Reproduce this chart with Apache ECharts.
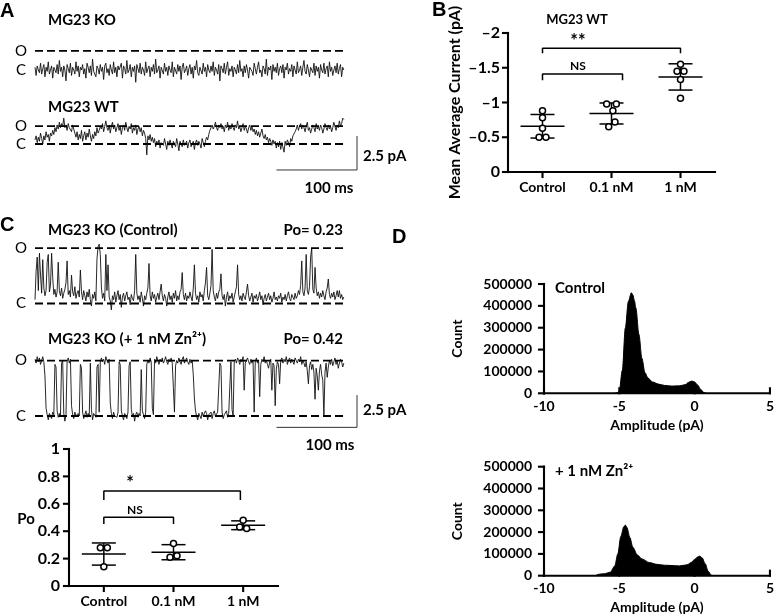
<!DOCTYPE html>
<html>
<head>
<meta charset="utf-8">
<script src="https://cdn.jsdelivr.net/npm/echarts@6/dist/echarts.min.js"></script>
<style>html,body{margin:0;padding:0;background:#fff}#main{width:777px;height:616px}</style>
</head>
<body>
<div id="main"></div>
<script>
// sampling step of the single-channel traces (ms)
var traceStep = 1.375;

// A: MG23 KO trace (pA, closed level = 0)
var koTrace = [
  0.2,-0.4,0.3,0.0,-0.2,0.5,-0.3,0.1,0.4,-0.5,0.2,-0.1,0.6,-0.3,0.0,0.3,-0.6,0.2,0.1,-0.2,
  0.4,-0.3,0.7,-0.1,0.2,-0.5,0.3,0.0,-0.8,0.4,0.1,-0.2,0.5,-0.4,0.2,0.0,-0.3,0.6,-0.1,0.3,
  -0.5,0.2,0.0,0.4,-0.3,0.1,-0.6,0.5,0.2,-0.2,0.3,-0.4,0.8,-0.1,0.0,-0.5,0.3,0.1,-0.3,0.4,
  -0.1,0.2,-0.7,0.3,0.5,-0.2,0.1,-0.4,0.4,0.0,-0.3,0.6,-0.2,0.2,-0.5,0.3,0.0,-0.1,0.5,-0.6,
  0.3,0.1,-0.3,0.7,-0.2,0.0,0.4,-0.5,0.2,-0.1,0.3,-0.9,0.4,0.1,-0.2,0.5,-0.3,0.2,0.0,-0.4,
  0.6,-0.2,0.1,0.3,-0.5,0.2,-0.1,0.4,-0.3,0.8,-0.2,0.0,0.3,-0.6,0.2,0.1,-0.3,0.5,-0.1,0.2,
  -0.4,0.3,0.0,-0.2,0.6,-0.5,0.2,0.1,-0.3,0.4,-0.1,0.3,-0.7,0.2,0.5,-0.2,0.0,0.3,-0.4,0.1,
  0.4,-0.3,0.2,-0.6,0.3,0.0,0.7,-0.2,-0.4,0.2,0.1,-0.3,0.5,-0.1,0.2,-0.5,0.4,0.0,-0.2,0.3,
  -0.1,0.6,-0.4,0.2,0.0,-0.3,0.4,-0.8,0.3,0.1,-0.2,0.5,-0.3,0.2,0.6,-0.4,0.1,-0.1,0.3,-0.5,
  0.2,0.0,-0.3,0.4,-0.2,0.7,-0.1,0.1,-0.5,0.3,-0.2,0.4,0.0,-0.6,0.2,0.3,-0.1,-0.4,0.5,0.1,
  -0.3,0.2,0.6,-0.2,0.0,-0.5,0.3,0.1,-0.3,0.8,-0.4,0.2,0.0,0.3,-0.7,0.4,-0.1,0.2,-0.2,0.5,
  -0.4,0.1,0.3,-0.2,0.4,-0.6,0.2,0.0,0.5,-0.3,0.1,-0.1,0.4,-0.5,0.3,0.2,-0.3,0.6,-0.2,0.0,
  0.3,-0.4,0.2,0.7,-0.1,-0.3,0.4,0.0,-0.5,0.2,0.1,-0.2,0.5,-0.4,0.3,-0.1,0.2,-0.6,0.4,0.0,
  -0.2,0.5,-0.3,0.1,0.3,-0.5,0.6,-0.1,0.2,-0.4,0.0,0.3,-0.2,0.5,-0.3,0.1,0.4,-0.5,0.2,0.0
];
// A: MG23 WT trace
var wtTrace = [
  0.3,0.6,0.1,0.5,0.2,0.8,0.4,0.0,0.6,0.3,0.9,0.5,0.7,0.2,0.8,0.6,1.0,0.7,1.2,0.9,
  1.4,1.1,1.6,1.2,1.5,1.3,1.9,1.2,1.4,1.0,1.5,1.2,1.3,0.9,1.4,1.1,0.8,0.5,0.9,0.3,
  0.7,0.4,1.0,0.2,0.6,0.9,0.3,0.8,0.5,1.1,0.6,0.2,0.7,0.4,0.9,0.6,1.2,0.8,1.0,1.3,
  1.1,1.5,0.9,1.3,1.7,1.2,1.0,1.4,0.8,1.3,1.6,1.1,1.4,0.9,1.2,1.5,1.0,1.3,0.7,1.2,
  1.4,1.0,1.6,1.2,0.9,1.3,1.1,1.5,0.8,1.2,1.0,1.4,0.7,1.1,1.3,0.9,1.2,0.6,1.0,0.8,
  0.4,-0.8,0.6,0.3,0.7,0.2,0.5,0.1,0.4,-0.2,0.2,0.0,0.3,-0.3,0.1,0.2,-0.1,0.4,0.0,-0.4,
  0.2,-0.1,0.3,0.0,-0.3,0.2,0.1,-0.2,0.4,0.0,-0.5,0.2,0.1,-0.2,0.3,-0.1,0.0,0.2,-0.3,0.1,
  0.3,-0.2,0.0,0.2,-0.4,0.1,0.3,-0.1,0.2,0.0,-0.3,0.4,0.1,-0.2,0.2,0.5,0.3,0.7,1.0,1.2,
  1.4,1.1,1.3,1.6,1.2,1.0,1.4,1.2,1.5,1.1,1.3,0.9,1.4,1.2,1.6,1.0,1.3,1.1,1.5,1.2,
  1.0,1.4,1.2,1.7,1.1,1.3,0.9,1.2,1.5,1.0,1.3,1.1,0.8,1.2,1.4,1.0,1.3,0.9,1.1,0.7,
  1.0,0.6,0.9,0.5,0.8,1.1,0.6,0.4,0.7,0.3,0.5,0.1,0.4,0.2,-0.1,0.3,0.0,0.2,-0.3,0.1,
  -0.2,0.2,-0.4,0.1,0.0,-0.6,0.2,-0.1,0.3,0.1,-0.2,0.4,0.2,0.6,0.5,0.9,1.1,1.4,1.0,1.3,
  1.5,1.1,1.4,1.2,0.9,1.3,1.6,1.0,1.2,0.8,1.1,1.4,1.2,0.9,1.5,1.1,1.3,1.0,1.4,1.2,
  0.8,1.1,1.5,1.2,1.0,1.4,1.1,1.3,0.9,1.2,1.6,1.3,1.0,1.4,1.2,1.7,1.3,1.5,1.9,1.8
];
// C: MG23 KO control trace
var ctrlTrace = [
  0.3,2.5,3.6,1.0,3.9,2.2,0.8,3.4,1.2,0.6,1.0,3.2,3.8,0.9,1.4,3.9,2.0,0.7,1.1,0.5,
  0.9,3.2,1.0,0.6,1.2,0.4,0.8,1.1,1.6,3.3,0.7,1.0,0.5,2.2,0.9,0.6,1.3,0.4,0.8,1.0,
  0.5,2.6,0.9,0.3,1.0,0.6,0.2,0.9,0.5,1.1,0.3,-0.2,0.7,0.4,0.9,0.2,3.5,4.4,4.6,3.8,
  1.2,0.4,0.8,0.2,3.8,1.0,3.0,0.5,0.2,-0.5,0.6,0.3,0.9,0.1,0.6,1.0,0.3,0.7,-0.3,0.5,
  0.8,0.2,0.6,0.9,0.3,0.5,-0.1,0.7,0.4,0.2,1.0,3.8,0.8,0.3,0.6,0.1,0.9,0.4,-0.2,0.6,
  0.3,0.8,1.2,3.1,0.6,0.2,0.9,0.4,0.7,0.1,0.5,0.8,0.3,0.9,1.5,0.6,0.2,0.7,0.4,-0.2,
  0.5,0.9,0.3,0.6,0.1,0.8,0.4,1.0,0.2,0.6,0.3,0.9,1.1,2.4,0.7,0.3,0.8,0.2,0.6,0.4,
  0.9,0.5,0.2,1.2,3.0,0.8,0.3,0.6,0.1,0.9,0.5,0.7,0.2,1.0,1.6,2.8,0.6,0.3,0.8,1.4,
  4.2,1.0,0.5,0.2,0.8,0.4,0.9,1.1,2.3,0.6,0.3,0.7,-0.2,0.5,0.9,0.2,0.6,0.4,0.8,0.1,
  0.5,0.9,1.3,3.0,0.7,0.3,0.6,0.2,0.8,0.5,0.3,0.9,1.5,0.6,0.2,0.5,0.8,0.1,0.6,0.4,
  0.7,0.2,0.5,0.9,0.3,0.6,-0.1,0.4,0.7,0.2,0.5,0.8,0.3,0.6,0.1,0.4,0.9,0.3,0.5,0.2,
  0.6,0.4,0.8,0.1,0.5,0.3,0.7,0.2,0.6,0.9,0.4,0.2,0.7,0.5,0.3,0.8,0.4,0.6,1.0,0.7,
  1.4,3.3,0.9,0.6,1.2,3.8,1.0,0.7,1.3,3.6,4.3,1.1,0.8,2.8,1.2,0.6,0.9,0.4,0.8,0.5,
  1.0,0.6,0.3,0.9,1.2,1.9,0.7,0.4,0.8,0.5,0.9,0.3,0.6,1.0,0.5,1.0,0.4,0.7,0.3,0.5
];
// C: MG23 KO + 1 nM Zn trace
var znTrace = [
  4.4,4.1,4.6,4.2,4.5,4.0,4.3,4.6,4.2,3.1,0.6,0.1,-0.3,0.2,0.0,-0.2,0.3,0.1,4.0,3.8,
  0.4,-0.1,0.2,0.0,4.1,4.3,0.2,-0.4,0.1,4.2,4.5,4.1,4.4,0.8,0.1,-0.2,0.3,0.0,-0.1,0.2,
  0.0,4.0,3.7,0.3,-0.2,0.1,0.4,-0.1,0.2,0.0,4.1,0.5,-0.3,0.2,0.1,-0.1,3.8,4.0,0.3,4.2,
  4.5,4.2,4.4,4.0,4.6,4.3,4.1,4.4,1.0,0.2,-0.2,0.3,0.0,0.1,-0.1,0.3,4.2,4.0,0.4,0.0,
  -0.3,0.2,0.1,-0.2,0.3,3.9,4.2,0.5,0.0,0.2,-0.4,0.1,0.3,-0.1,0.2,0.0,3.6,0.4,0.1,-0.2,
  0.3,4.0,4.3,4.1,4.5,4.2,0.6,0.1,4.4,4.1,4.6,4.3,4.0,4.4,4.2,4.5,4.1,4.3,4.6,4.2,
  4.0,4.4,4.2,4.5,4.1,2.2,0.3,3.9,4.3,4.1,4.5,4.2,4.0,4.4,4.6,4.1,4.3,4.5,4.2,4.0,
  4.4,4.1,4.3,3.2,1.4,0.4,0.0,-0.3,0.2,0.1,-0.2,0.3,0.0,-0.1,0.4,0.2,-0.3,0.1,0.0,0.3,
  -0.2,0.2,0.4,0.0,-0.1,0.3,0.2,4.1,3.9,0.3,-0.2,0.1,0.0,0.4,-0.1,0.2,0.1,4.2,0.5,0.0,
  4.2,4.4,4.1,4.5,4.3,4.0,4.4,4.2,4.6,2.0,4.1,4.3,4.5,4.2,4.0,4.4,4.1,4.3,0.3,4.2,
  4.5,4.1,4.3,1.5,4.0,4.4,4.2,4.6,4.1,4.3,4.0,3.7,4.2,4.4,2.0,4.1,3.9,0.8,3.6,4.2,
  4.0,2.5,4.3,4.5,4.1,4.4,4.2,4.6,4.0,4.3,4.5,4.1,4.4,4.2,4.0,4.5,4.3,4.1,4.4,4.2,
  4.6,4.0,4.3,4.1,3.8,4.2,3.5,2.5,3.9,4.2,3.6,4.0,3.4,1.3,3.7,3.1,2.0,3.5,4.0,3.2,
  2.8,0.0,3.4,4.1,3.0,3.8,4.3,4.0,4.4,3.9,4.2,4.5,4.0,4.3,3.7,4.1,4.4,4.2,3.8,4.1
];
var openA_KO = 1.4, openA_WT = 1.32, openC = 4.3;
var traceEnd = 383;

// B / C scatter groups
var groups = ['Control', '0.1 nM', '1 nM'];
var curValues = [[-0.88,-0.78,-0.63,-0.5,-0.5],[-0.98,-0.98,-0.88,-0.72,-0.65],[-1.55,-1.45,-1.45,-1.33,-1.06]];
var curJitter = [[0,0,0,-0.05,0.05],[-0.07,0.07,0.02,0.05,-0.04],[0,-0.05,0.05,0,0]];
var poValues = [[0.28,0.28,0.14],[0.31,0.21,0.22],[0.48,0.43,0.42]];
var poJitter = [[-0.05,0.05,0],[0,-0.05,0.05],[0,-0.05,0.05]];

// D amplitude histograms
var ampCtrl = [-5.3,-5.1,-5.0,-4.8,-4.6,-4.4,-4.2,-4.1,-4.0,-3.9,-3.7,-3.5,-3.3,-3.1,-2.8,-2.4,-2.0,-1.5,-1.0,-0.6,-0.4,-0.2,0.0,0.2,0.4,0.6,0.8];
var countCtrl = [0,3000,12000,105000,300000,420000,460000,450000,425000,390000,270000,160000,95000,70000,52000,42000,36000,33000,34000,40000,50000,56000,52000,38000,18000,4000,0];
var ampZn = [-6.5,-6.0,-5.6,-5.3,-5.1,-4.9,-4.7,-4.6,-4.5,-4.3,-4.1,-3.8,-3.5,-3.0,-2.5,-2.0,-1.0,-0.5,-0.2,0.0,0.2,0.35,0.5,0.7,0.9,1.1,1.2];
var countZn = [5000,9000,16000,45000,100000,180000,225000,232000,222000,175000,130000,95000,77000,60000,52000,48000,45000,50000,62000,75000,86000,90000,82000,55000,20000,3000,0];

// tick positions
var groupTicks = [0, 1, 2];
var curTicks = [-2, -1.5, -1, -0.5, 0];
var poTicks = [0, 0.2, 0.4, 0.6, 0.8, 1];
var ampTicks = [-10, -5, 0, 5];
var countTicks = [0, 100000, 200000, 300000, 400000, 500000];

var FONT = 'Lato';

function toXY(arr) {
    return arr.map(function (v, i) { return [i * traceStep, v]; });
}
function zip(xs, ys) {
    return xs.map(function (x, i) { return [x, ys[i]]; });
}
function mean(a) {
    return a.reduce(function (s, v) { return s + v; }, 0) / a.length;
}
function sd(a) {
    var m = mean(a);
    return Math.sqrt(a.reduce(function (s, v) { return s + (v - m) * (v - m); }, 0) / (a.length - 1));
}

function traceSeries(idx, arr) {
    return {type: 'line', xAxisIndex: idx, yAxisIndex: idx, data: toXY(arr), showSymbol: false,
        lineStyle: {color: '#111', width: 0.9}, z: 2, silent: true};
}
function levelSeries(idx, lvl) {
    return {type: 'line', xAxisIndex: idx, yAxisIndex: idx, data: [[0, lvl], [traceEnd, lvl]], showSymbol: false,
        lineStyle: {color: '#000', width: 1.8, type: [8, 4]}, z: 3, silent: true};
}
function scaleBar(idx, y0) {
    // 100 ms by 2.5 pA
    return {type: 'line', xAxisIndex: idx, yAxisIndex: idx, data: [[300, y0], [400, y0], [400, y0 + 2.5]],
        showSymbol: false, lineStyle: {color: '#333', width: 1}, silent: true};
}

function scatterData(values, jitter) {
    var out = [];
    values.forEach(function (g, gi) {
        g.forEach(function (v, k) { out.push([gi + jitter[gi][k], v]); });
    });
    return out;
}
function statData(values) {
    return values.map(function (g, gi) { return [gi, mean(g), sd(g)]; });
}
function errorBars(params, api) {
    var x = api.value(0), m = api.value(1), s = api.value(2);
    var c = api.coord([x, m]), t = api.coord([x, m + s]), b = api.coord([x, m - s]);
    var st = {stroke: '#000', lineWidth: 1.5};
    return {type: 'group', children: [
        {type: 'line', shape: {x1: c[0] - 22, y1: c[1], x2: c[0] + 22, y2: c[1]}, style: st},
        {type: 'line', shape: {x1: t[0], y1: t[1], x2: b[0], y2: b[1]}, style: st},
        {type: 'line', shape: {x1: t[0] - 12, y1: t[1], x2: t[0] + 12, y2: t[1]}, style: st},
        {type: 'line', shape: {x1: b[0] - 12, y1: b[1], x2: b[0] + 12, y2: b[1]}, style: st}
    ]};
}
function bracket(xi, yi, x1, x2, yTop, yFoot) {
    return {type: 'line', xAxisIndex: xi, yAxisIndex: yi, showSymbol: false, silent: true,
        data: [[x1, yFoot], [x1, yTop], [x2, yTop], [x2, yFoot]],
        lineStyle: {color: '#000', width: 1.5}};
}
// axis lines + ticks, drawn through the grid's own scales
function axisFrame(xi, yi, xTicks, yTicks, xInside) {
    return {type: 'custom', xAxisIndex: xi, yAxisIndex: yi, silent: true, clip: false, z: 6,
        data: [[0]],
        renderItem: function (params, api) {
            var cs = params.coordSys;
            var left = cs.x, right = cs.x + cs.width, top = cs.y, bottom = cs.y + cs.height;
            var kids = [];
            function seg(x1, y1, x2, y2) {
                kids.push({type: 'line', shape: {x1: x1, y1: y1, x2: x2, y2: y2},
                    style: {stroke: '#010101', lineWidth: 2.1, opacity: 1, lineCap: 'square'}});
            }
            seg(left, bottom, right, bottom);
            seg(left, top, left, bottom);
            xTicks.forEach(function (v) {
                var px = api.coord([v, yTicks[0]])[0];
                seg(px, bottom, px, xInside ? bottom - 5 : bottom + 5);
            });
            yTicks.forEach(function (v) {
                var py = api.coord([xTicks[0], v])[1];
                seg(left - 5, py, left, py);
            });
            return {type: 'group', children: kids};
        }};
}

function hiddenX(min, max, gi) { return {type: 'value', gridIndex: gi, min: min, max: max, show: false}; }
function hiddenY(min, max, gi) { return {type: 'value', gridIndex: gi, min: min, max: max, show: false}; }

var noLine = {show: false, onZero: false};
var noTick = {show: false};
var labelStyle = {color: '#000', fontFamily: FONT, fontWeight: 'bold', fontSize: 14};
var bigLabel = {color: '#000', fontFamily: FONT, fontWeight: 'bold', fontSize: 16};

function catAxis(gi) {
    return {type: 'category', gridIndex: gi, data: groups, axisLine: noLine, axisTick: noTick,
        axisLabel: Object.assign({margin: 8}, labelStyle)};
}
function ampAxis(gi) {
    return {type: 'value', gridIndex: gi, min: -10, max: 5, interval: 5, axisLine: noLine, axisTick: noTick,
        splitLine: {show: false}, axisLabel: Object.assign({margin: 6}, labelStyle),
        name: 'Amplitude (pA)', nameLocation: 'middle', nameGap: 25, nameTextStyle: labelStyle};
}
function countAxis(gi) {
    return {type: 'value', gridIndex: gi, min: 0, max: 500000, interval: 100000,
        axisLine: noLine, axisTick: noTick, splitLine: {show: false},
        axisLabel: Object.assign({margin: 12, formatter: function (v) { return String(v); }}, labelStyle),
        name: 'Count', nameLocation: 'middle', nameGap: 80, nameTextStyle: labelStyle};
}

function txt(x, y, s, size, align, weight, family) {
    return {type: 'text', x: x, y: y, z: 20, silent: true, style: {text: s, fill: '#000',
        font: (weight || 'bold') + ' ' + size + 'px ' + (family || FONT),
        align: align || 'left', verticalAlign: 'middle'}};
}

var option = {
    animation: false,
    textStyle: {fontFamily: FONT, color: '#000'},
    grid: [
        {left: 35, width: 322, top: 42.8, height: 54.4},     // A KO trace
        {left: 35, width: 322, top: 116.8, height: 57.12},   // A WT trace
        {left: 35, width: 322, top: 239, height: 83.85},     // C control trace
        {left: 35, width: 322, top: 351.5, height: 83.85},   // C Zn trace
        {left: 508, width: 207, top: 33, height: 139},       // B
        {left: 69, width: 209, top: 449, height: 137},       // C Po
        {left: 544, width: 229, top: 284, height: 109.3},    // D control
        {left: 544, width: 229, top: 466.7, height: 109}     // D Zn
    ],
    xAxis: [
        hiddenX(0, 400, 0), hiddenX(0, 400, 1), hiddenX(0, 400, 2), hiddenX(0, 400, 3),
        catAxis(4), hiddenX(-0.5, 2.5, 4),
        catAxis(5), hiddenX(-0.5, 2.5, 5),
        ampAxis(6), ampAxis(7)
    ],
    yAxis: [
        hiddenY(-2, 2, 0), hiddenY(-2.2, 2, 1), hiddenY(-1.5, 5, 2), hiddenY(-1.5, 5, 3),
        {type: 'value', gridIndex: 4, min: -2, max: 0, interval: 0.5, inverse: true,
            axisLine: noLine, axisTick: noTick, splitLine: {show: false},
            axisLabel: Object.assign({margin: 8, formatter: function (v) { return String(v).replace('-', '–'); }}, bigLabel),
            name: 'Mean Average Current (pA)', nameLocation: 'middle', nameGap: 45, nameTextStyle: bigLabel},
        {type: 'value', gridIndex: 5, min: 0, max: 1, interval: 0.2,
            axisLine: noLine, axisTick: noTick, splitLine: {show: false},
            axisLabel: Object.assign({margin: 9}, bigLabel)},
        countAxis(6), countAxis(7)
    ],
    series: [
        traceSeries(0, koTrace), levelSeries(0, openA_KO),
        traceSeries(1, wtTrace), levelSeries(1, openA_WT), levelSeries(1, 0), scaleBar(1, -1.91),
        traceSeries(2, ctrlTrace), levelSeries(2, openC), levelSeries(2, 0),
        traceSeries(3, znTrace), levelSeries(3, openC), levelSeries(3, 0), scaleBar(3, -0.88),

        // B
        {type: 'custom', xAxisIndex: 5, yAxisIndex: 4, renderItem: errorBars, data: statData(curValues), z: 3},
        {type: 'scatter', xAxisIndex: 5, yAxisIndex: 4, data: scatterData(curValues, curJitter), symbolSize: 6,
            itemStyle: {color: '#fff', borderColor: '#000', borderWidth: 1.5, opacity: 1}, z: 4},
        bracket(5, 4, 0, 2, -1.78, -1.71),
        bracket(5, 4, 0, 1.16, -1.41, -1.32),
        axisFrame(5, 4, groupTicks, curTicks, false),

        // C Po
        {type: 'custom', xAxisIndex: 7, yAxisIndex: 5, renderItem: errorBars, data: statData(poValues), z: 3},
        {type: 'scatter', xAxisIndex: 7, yAxisIndex: 5, data: scatterData(poValues, poJitter), symbolSize: 6,
            itemStyle: {color: '#fff', borderColor: '#000', borderWidth: 1.5, opacity: 1}, z: 4},
        bracket(7, 5, 0, 1.96, 0.693, 0.628),
        bracket(7, 5, 0, 1, 0.501, 0.453),
        axisFrame(7, 5, groupTicks, poTicks, false),

        // D
        {type: 'line', xAxisIndex: 8, yAxisIndex: 6, data: zip(ampCtrl, countCtrl), showSymbol: false,
            smooth: 0.3, smoothMonotone: 'x', lineStyle: {color: '#000', width: 1},
            areaStyle: {color: '#000', opacity: 1}},
        axisFrame(8, 6, ampTicks, countTicks, true),
        {type: 'line', xAxisIndex: 9, yAxisIndex: 7, data: zip(ampZn, countZn), showSymbol: false,
            smooth: 0.3, smoothMonotone: 'x', lineStyle: {color: '#000', width: 1},
            areaStyle: {color: '#000', opacity: 1}},
        axisFrame(9, 7, ampTicks, countTicks, true)
    ],
    graphic: [
        txt(0, 11, 'A', 20, 'left', 'bold', 'Liberation Sans'),
        txt(48, 20, 'MG23 KO', 15),
        txt(21, 51, 'O', 15, 'center', 'normal'), txt(21, 70, 'C', 15, 'center', 'normal'),
        txt(48, 107, 'MG23 WT', 15),
        txt(21, 126, 'O', 15, 'center', 'normal'), txt(21, 144, 'C', 15, 'center', 'normal'),
        txt(363, 156, '2.5 pA', 15),
        txt(329, 188, '100 ms', 15, 'center'),

        txt(432, 10, 'B', 20, 'left', 'bold', 'Liberation Sans'),
        txt(577, 20, 'MG23 WT', 13, 'center'),
        txt(578, 41, '**', 18, 'center'),
        txt(578, 66, 'NS', 12, 'center'),

        txt(0, 225, 'C', 20, 'left', 'bold', 'Liberation Sans'),
        txt(48, 230, 'MG23 KO (Control)', 15), txt(343, 230, 'Po= 0.23', 15, 'right'),
        txt(21, 248, 'O', 15, 'center', 'normal'), txt(21, 303, 'C', 15, 'center', 'normal'),
        txt(48, 339, 'MG23 KO (+ 1 nM Zn²⁺)', 15), txt(343, 339, 'Po= 0.42', 15, 'right'),
        txt(21, 360, 'O', 15, 'center', 'normal'), txt(21, 416, 'C', 15, 'center', 'normal'),
        txt(363, 410, '2.5 pA', 15),
        txt(330, 445, '100 ms', 15, 'center'),
        txt(26, 519, 'Po', 15, 'center'),
        txt(130, 483, '*', 18, 'center'),
        txt(135, 510, 'NS', 12, 'center'),

        txt(392, 237, 'D', 20, 'left', 'bold', 'Liberation Sans'),
        txt(555, 288, 'Control', 15),
        txt(555, 471, '+ 1 nM Zn²⁺', 15)
    ]
};

var chart = echarts.init(document.getElementById('main'));
chart.setOption(option);
</script>
</body>
</html>
